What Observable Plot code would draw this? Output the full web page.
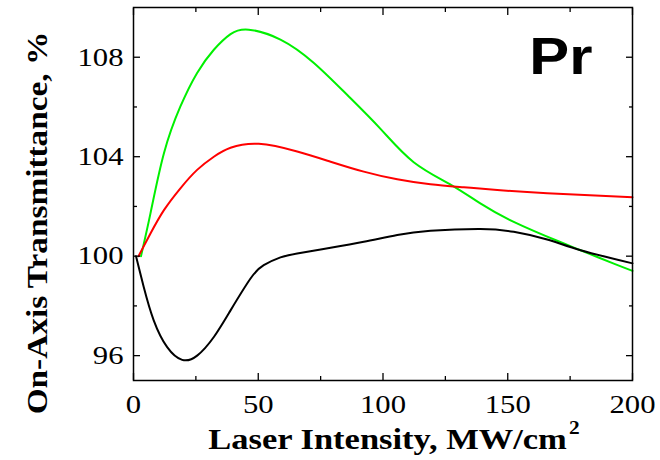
<!DOCTYPE html>
<html><head><meta charset="utf-8">
<script src="https://cdn.jsdelivr.net/npm/d3@7"></script>
<script src="https://cdn.jsdelivr.net/npm/@observablehq/plot@0.6"></script>
<style>body{margin:0;background:#fff;} #chart{width:660px;height:460px;}</style>
</head><body><div id="chart"></div>
<script>
// Data
const greenX = [3, 6.8, 12.2, 18.8, 25.5, 32.2, 38.9, 46.2, 58.9, 72.3, 85.6, 99, 112.3, 127.4, 139, 152.4, 169.8, 179.2, 192.5, 200];
const greenY = [100, 101.72, 104.14, 106.02, 107.37, 108.3, 108.93, 109.11, 108.71, 107.77, 106.49, 105.12, 103.78, 102.86, 102.12, 101.38, 100.62, 100.24, 99.70, 99.41];
const redX = [2, 6.8, 12.2, 18.8, 25.5, 32.2, 38.9, 50.2, 65.6, 79, 92.3, 105.7, 119, 132.4, 145.8, 165.8, 200];
const redY = [100, 100.91, 101.85, 102.73, 103.47, 104.0, 104.36, 104.52, 104.21, 103.80, 103.40, 103.09, 102.89, 102.77, 102.66, 102.53, 102.37];
const blackX = [1, 4.1, 8.1, 13.5, 19.5, 25.5, 32.2, 38.9, 46.9, 52.2, 58.9, 65.6, 79, 92.3, 105.7, 119, 139, 152.4, 165.8, 179.2, 200];
const blackY = [100, 98.76, 97.42, 96.34, 95.83, 96.0, 96.75, 97.82, 99.10, 99.64, 99.95, 100.11, 100.34, 100.58, 100.85, 101.02, 101.09, 100.98, 100.67, 100.24, 99.71];

const xMajor = [0, 50, 100, 150, 200];
const xMinor = [25, 75, 125, 175];
const yMajor = [96, 100, 104, 108];
const yMinor = [98, 102, 106];
const xTitle = "Laser Intensity, MW/cm";
const xTitleSup = "2";
const yTitle = "On-Axis Transmittance, %";
const tag = "Pr";

const series = [
  {name: "green", color: "#00f000", xs: greenX, ys: greenY},
  {name: "red", color: "#ff0000", xs: redX, ys: redY},
  {name: "black", color: "#000000", xs: blackX, ys: blackY}
];
const rows = series.flatMap(s => s.xs.map((x, i) => ({series: s.name, x, y: s.ys[i]})));
const colorOf = Object.fromEntries(series.map(s => [s.name, s.color]));

const serif = "'Liberation Serif', 'Times New Roman', serif";
const chart = Plot.plot({
  width: 660, height: 460,
  marginLeft: 133, marginRight: 28, marginTop: 7, marginBottom: 80,
  style: {fontFamily: serif, fontSize: "26px", color: "#000", background: "#fff"},
  x: {domain: [0, 200]},
  y: {domain: [95, 110]},
  marks: [
    Plot.line(rows, {x: "x", y: "y", z: "series", stroke: d => colorOf[d.series], strokeWidth: 2, curve: "natural"}),
    Plot.frame({stroke: "#000", strokeWidth: 1.5}),
    // tick labels
    Plot.axisX(xMajor, {tickSize: 0, tickPadding: 14, label: null, fontSize: 26}),
    Plot.axisY(yMajor, {tickSize: 0, tickPadding: 10, label: null, fontSize: 26}),
    // inward ticks on all sides
    Plot.axisX(xMajor, {anchor: "bottom", tickSize: -7, text: null, label: null, strokeWidth: 1.3}),
    Plot.axisX(xMinor, {anchor: "bottom", tickSize: -4, text: null, label: null, strokeWidth: 1.3}),
    Plot.axisX(xMajor, {anchor: "top", tickSize: -7, text: null, label: null, strokeWidth: 1.3}),
    Plot.axisX(xMinor, {anchor: "top", tickSize: -4, text: null, label: null, strokeWidth: 1.3}),
    Plot.axisY(yMajor, {anchor: "left", tickSize: -7, text: null, label: null, strokeWidth: 1.3}),
    Plot.axisY(yMinor, {anchor: "left", tickSize: -4, text: null, label: null, strokeWidth: 1.3}),
    Plot.axisY(yMajor, {anchor: "right", tickSize: -7, text: null, label: null, strokeWidth: 1.3}),
    Plot.axisY(yMinor, {anchor: "right", tickSize: -4, text: null, label: null, strokeWidth: 1.3}),
    // titles
    Plot.text([xTitle], {frameAnchor: "bottom", lineAnchor: "bottom", dy: 68, dx: 11, text: d => d, fontWeight: "bold", fontSize: 30, fontFamily: serif, fill: "#000"}),
    Plot.text([yTitle], {frameAnchor: "left", textAnchor: "middle", lineAnchor: "middle", dx: -96, dy: 29, rotate: -90, text: d => d, fontWeight: "bold", fontSize: 30, fontFamily: serif, fill: "#000"}),
    Plot.text([tag], {frameAnchor: "top-right", dx: -40, dy: 30, lineAnchor: "top", textAnchor: "end", text: d => d, fontWeight: "bold", fontSize: 52, fontFamily: "'Liberation Sans', Arial, sans-serif", fill: "#000"})
  ]
});
document.getElementById("chart").appendChild(chart);

// horizontal stretch of text, as in the reference figure
function stretchEl(t, sx) {
  const tr = t.getAttribute("transform") || "";
  t.setAttribute("transform", tr + ` scale(${sx},1)`);
}
const allText = Array.from(chart.querySelectorAll("text"));
const byContent = s => allText.find(t => t.textContent === s);
chart.querySelectorAll('g[aria-label="x-axis tick label"] text').forEach(t => stretchEl(t, 1.18));
chart.querySelectorAll('g[aria-label="y-axis tick label"] text').forEach(t => stretchEl(t, 1.18));
const xt = byContent(xTitle), yt = byContent(yTitle), tg = byContent(tag);
if (xt) {
  const sup = document.createElementNS("http://www.w3.org/2000/svg", "tspan");
  sup.setAttribute("dy", "-0.8em");
  sup.setAttribute("dx", "2");
  sup.setAttribute("font-size", "0.62em");
  sup.textContent = xTitleSup;
  xt.appendChild(sup);
  stretchEl(xt, 1.15);
}
if (yt) stretchEl(yt, 1.11);
if (tg) stretchEl(tg, 1.15);
</script>
</body></html>
